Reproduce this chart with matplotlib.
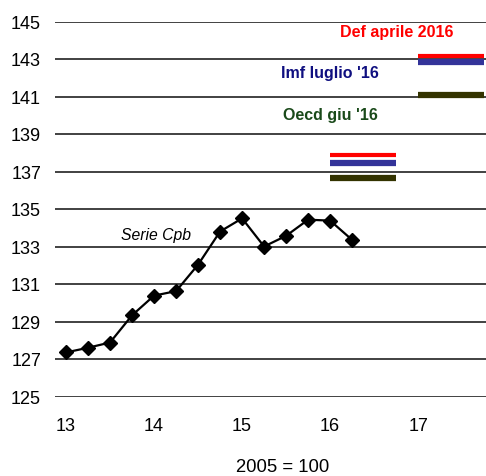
import matplotlib.pyplot as plt

plt.rcParams['font.family'] = ['Liberation Sans', 'DejaVu Sans']

# Serie Cpb, quarterly (x in years, 13 = 2013 Q1)
quarters = [13.0, 13.25, 13.5, 13.75, 14.0, 14.25, 14.5, 14.75,
            15.0, 15.25, 15.5, 15.75, 16.0, 16.25]
cpb = [127.35, 127.6, 127.88, 129.33, 130.38, 130.62, 132.03, 133.8,
       134.5, 133.0, 133.57, 134.43, 134.38, 133.35]

# forecasts: (start, end) spans and levels per year
spans = [(16.0, 16.75), (17.0, 17.75)]
def_apr = [137.9, 143.15]
imf_lug = [137.48, 142.85]
oecd_giu = [136.67, 141.06]

yticks = list(range(125, 146, 2))
xticks = [13, 14, 15, 16, 17]

fig = plt.figure(figsize=(4.86, 4.77), dpi=100)
ax = fig.add_axes([55 / 486, 1 - 397.5 / 477, 431 / 486, 375 / 477])

for y in yticks:
    ax.axhline(y, color='#333333', lw=1.3, zorder=1)

ax.plot(quarters, cpb, color='black', lw=1.6, marker='D', ms=7.5, zorder=3)

for (x0, x1), r, b, o in zip(spans, def_apr, imf_lug, oecd_giu):
    ax.plot([x0, x1], [o, o], color='#333300', lw=4.5, solid_capstyle='butt', zorder=2)
    ax.plot([x0, x1], [b, b], color='#333399', lw=4.5, solid_capstyle='butt', zorder=2)
    ax.plot([x0, x1], [r, r], color='#ff0000', lw=3.0, solid_capstyle='butt', zorder=2)

ax.text(16.76, 144.44, 'Def aprile 2016', color='#ff0000', fontsize=11.5,
        fontweight='bold', ha='center', va='center')
ax.text(16.0, 142.3, "Imf luglio '16", color='#0f0f80', fontsize=11.5,
        fontweight='bold', ha='center', va='center')
ax.text(16.0, 140.05, "Oecd giu '16", color='#1a4a1a', fontsize=11.5,
        fontweight='bold', ha='center', va='center')
ax.text(14.02, 133.65, 'Serie Cpb', fontsize=11.3, style='italic',
        ha='center', va='center')

ax.set_xlim(12.875, 17.77)
ax.set_ylim(125, 145)
ax.set_yticks(yticks)
ax.set_yticklabels([str(y) for y in yticks], fontsize=13)
ax.set_xticks(xticks)
ax.set_xticklabels([str(x) for x in xticks], fontsize=13)
ax.tick_params(length=0, pad=15, axis='x')
ax.tick_params(length=0, pad=10, axis='y')
for s in ax.spines.values():
    s.set_visible(False)

fig.text(283 / 486, 1 - 468 / 477, '2005 = 100', fontsize=13.3,
         ha='center', va='center')

fig.savefig('out.png', dpi=100)
